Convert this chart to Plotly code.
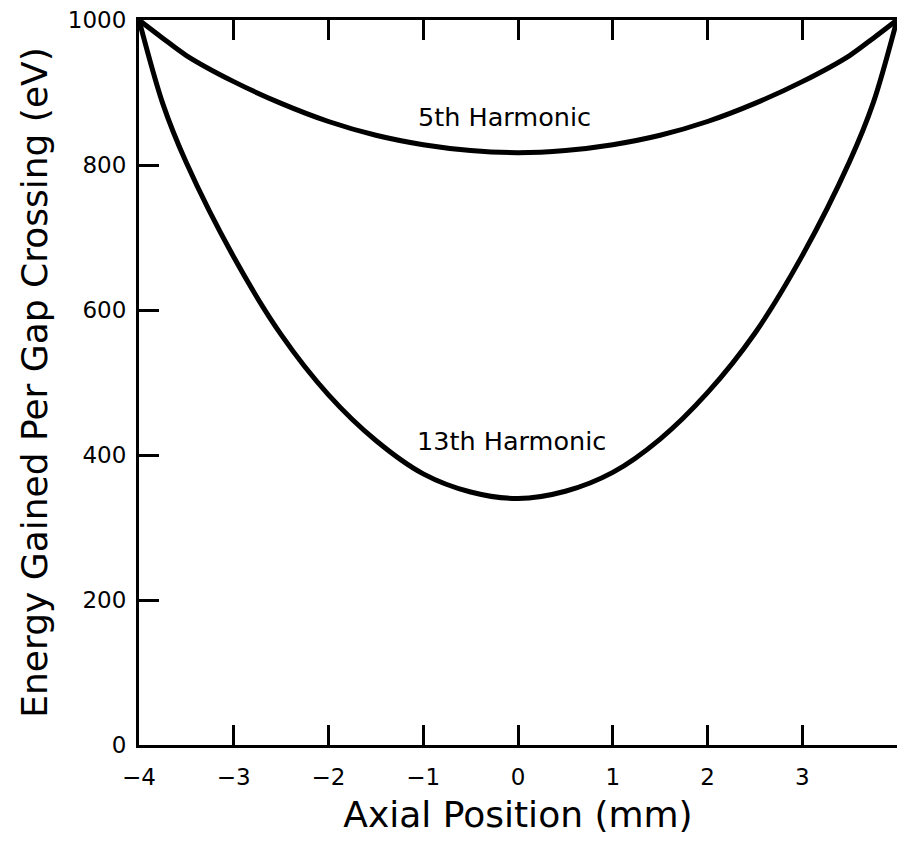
import plotly.graph_objects as go

# Data
axial_mm = [-4.0, -3.75, -3.5, -3.0, -2.5, -2.0, -1.5, -1.0, -0.5, 0.0,
            0.5, 1.0, 1.5, 2.0, 2.5, 3.0, 3.5, 3.75, 4.0]
energy_5th = [1000, 975, 951, 915, 885, 860, 841, 828, 820, 817,
              820, 828, 841, 860, 885, 915, 951, 975, 1000]
energy_13th = [1000, 885, 803, 673, 566, 483, 420, 374, 349, 340,
               350, 376, 422, 486, 568, 675, 805, 886, 1000]

x_ticks = [-4, -3, -2, -1, 0, 1, 2, 3, 4]
y_ticks = [0, 200, 400, 600, 800, 1000]

labels = [("5th Harmonic", -0.14, 866), ("13th Harmonic", -0.07, 420)]

FONT = "DejaVu Sans"

fig = go.Figure()
for vals in (energy_5th, energy_13th):
    fig.add_trace(go.Scatter(
        x=axial_mm, y=vals, mode="lines",
        line=dict(color="black", width=5, shape="spline", smoothing=0.9),
        showlegend=False, hoverinfo="skip",
    ))

for text, xv, yv in labels:
    fig.add_annotation(x=xv, y=yv, text=text, showarrow=False,
                       font=dict(family=FONT, size=25.5, color="black"))

fig.update_layout(
    width=901, height=845,
    margin=dict(l=139, r=4, t=20, b=100),
    paper_bgcolor="white", plot_bgcolor="white",
    font=dict(family=FONT, color="black", size=23),
    xaxis=dict(
        range=[-4, 4], tickvals=x_ticks, ticks="inside", ticklen=20,
        tickwidth=2.5, tickcolor="black", showline=True, linewidth=3,
        linecolor="black", mirror="ticks", showgrid=False, zeroline=False,
        ticklabelstandoff=9,
        title=dict(text="Axial Position (mm)",
                   font=dict(family=FONT, size=36), standoff=14),
    ),
    yaxis=dict(
        range=[0, 1000], tickvals=y_ticks, ticks="inside", ticklen=20,
        tickwidth=2.5, tickcolor="black", showline=True, linewidth=3,
        linecolor="black", mirror=False, showgrid=False, zeroline=False,
        ticklabelstandoff=5,
        title=dict(text="Energy Gained Per Gap Crossing (eV)",
                   font=dict(family=FONT, size=36), standoff=10),
    ),
    yaxis2=dict(
        range=[0, 1000], tickvals=y_ticks, ticks="inside", ticklen=20,
        tickwidth=2.5, tickcolor="black", showline=True, linewidth=1.5,
        linecolor="#444", overlaying="y", side="right",
        showticklabels=False, showgrid=False, zeroline=False,
    ),
)

fig.write_html("out.html")
